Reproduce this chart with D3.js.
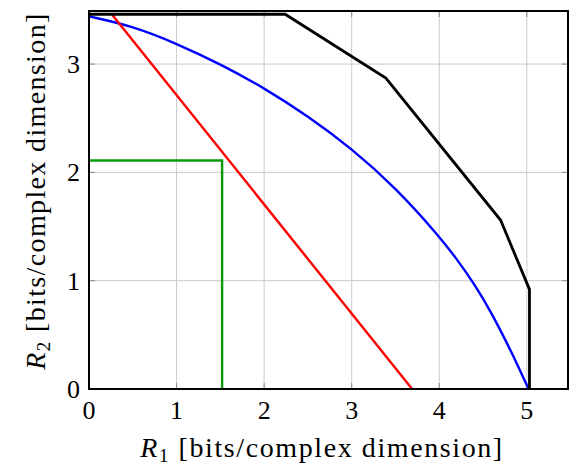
<!DOCTYPE html>
<html>
<head>
<meta charset="utf-8">
<script src="https://cdn.jsdelivr.net/npm/d3@7"></script>
</head>
<body style="margin:0">
<svg id="region" width="575" height="468"></svg>
<script>
// tick values on both axes
var xTicks = [0, 1, 2, 3, 4, 5];
var yTicks = [0, 1, 2, 3];

// outer (black) region boundary
var outerR1 = [0, 2.24, 3.39, 4.70, 5.03, 5.03];
var outerR2 = [3.46, 3.46, 2.87, 1.56, 0.92, 0];

// curved (blue) boundary
var curveR1 = [0, 0.5, 1, 1.5, 2, 2.5, 3, 3.5, 4, 4.2, 4.4, 4.6, 4.8, 4.9, 5.02];
var curveR2 = [3.44, 3.35, 3.19, 3.00, 2.78, 2.52, 2.22, 1.86, 1.41, 1.20, 0.97, 0.70, 0.38, 0.21, 0];

// sum-rate (red) line
var sumR1 = [0.26, 3.69];
var sumR2 = [3.46, 0];

// box (green) region
var boxR1 = [0, 1.52, 1.52];
var boxR2 = [2.11, 2.11, 0];

var zipPts = function(xs, ys)
{
    return xs.map(function(x, i) { return {x: x, y: ys[i]}; });
}

// place a text so that its middle (or right end) sits at x
var anchorText = function(sel, x, how)
{
    sel.each(function()
    {
        var w = this.getComputedTextLength();
        var shift = how === "end" ? w : w / 2;
        d3.select(this).attr("x", x - shift);
    });
}

var initGraph = function(target)
{
    var screen = {width: 575, height: 468};
    var margins = {top: 11, bottom: 79, left: 89, right: 7};
    var graph =
    {
        width: screen.width - margins.left - margins.right,
        height: screen.height - margins.top - margins.bottom
    };

    var svg = d3.select(target);

    var xScale = d3.scaleLinear()
        .domain([0, 5.47])
        .range([0, graph.width]);

    var yScale = d3.scaleLinear()
        .domain([0, 3.49])
        .range([graph.height, 0]);

    var g = svg.append("g")
        .attr("transform", "translate(" + margins.left + "," + margins.top + ")");

    // grid lines
    var grid = g.append("g").attr("stroke", "#cbcbcb").attr("stroke-width", 1);
    grid.selectAll(".gx").data(xTicks).enter().append("line")
        .attr("x1", function(d) { return xScale(d); })
        .attr("x2", function(d) { return xScale(d); })
        .attr("y1", 0).attr("y2", graph.height);
    grid.selectAll(".gy").data(yTicks).enter().append("line")
        .attr("y1", function(d) { return yScale(d); })
        .attr("y2", function(d) { return yScale(d); })
        .attr("x1", 0).attr("x2", graph.width);

    // inner tick marks on all four sides
    var tl = 6;
    var ticks = g.append("g").attr("stroke", "#8a8a8a").attr("stroke-width", 1);
    xTicks.forEach(function(t)
    {
        ticks.append("line").attr("x1", xScale(t)).attr("x2", xScale(t))
            .attr("y1", graph.height).attr("y2", graph.height - tl);
        ticks.append("line").attr("x1", xScale(t)).attr("x2", xScale(t))
            .attr("y1", 0).attr("y2", tl);
    });
    yTicks.forEach(function(t)
    {
        ticks.append("line").attr("y1", yScale(t)).attr("y2", yScale(t))
            .attr("x1", 0).attr("x2", tl);
        ticks.append("line").attr("y1", yScale(t)).attr("y2", yScale(t))
            .attr("x1", graph.width).attr("x2", graph.width - tl);
    });

    g.append("clipPath").attr("id", "plotclip")
        .append("rect").attr("x", -2).attr("y", -2)
        .attr("width", graph.width + 4).attr("height", graph.height + 4);

    var plot = g.append("g").attr("clip-path", "url(#plotclip)");

    var straight = d3.line()
        .x(function(d) { return xScale(d.x); })
        .y(function(d) { return yScale(d.y); });

    var smooth = d3.line()
        .curve(d3.curveBasis)
        .x(function(d) { return xScale(d.x); })
        .y(function(d) { return yScale(d.y); });

    plot.append("path")
        .datum(zipPts(boxR1, boxR2))
        .attr("d", straight)
        .attr("fill", "none").attr("stroke", "#0a9a0a").attr("stroke-width", 2.4);

    plot.append("path")
        .datum(zipPts(curveR1, curveR2))
        .attr("d", smooth)
        .attr("fill", "none").attr("stroke", "#0000ff").attr("stroke-width", 2.4);

    plot.append("path")
        .datum(zipPts(sumR1, sumR2))
        .attr("d", straight)
        .attr("fill", "none").attr("stroke", "#ff0000").attr("stroke-width", 2.4);

    plot.append("path")
        .datum(zipPts(outerR1, outerR2))
        .attr("d", straight)
        .attr("fill", "none").attr("stroke", "#000").attr("stroke-width", 2.8)
        .attr("stroke-linejoin", "miter");

    // frame
    g.append("rect")
        .attr("width", graph.width).attr("height", graph.height)
        .attr("fill", "none").attr("stroke", "#000").attr("stroke-width", 2);

    // tick labels
    g.selectAll(".xlab").data(xTicks).enter()
        .append("text")
        .attr("y", graph.height + 30)
        .attr("font-size", 26)
        .style("font-family", "\"Liberation Serif\"")
        .text(function(d) { return d; })
        .each(function(d) { anchorText(d3.select(this), xScale(d), "middle"); });

    g.selectAll(".ylab").data(yTicks).enter()
        .append("text")
        .attr("y", function(d) { return yScale(d) + 9; })
        .attr("font-size", 26)
        .style("font-family", "\"Liberation Serif\"")
        .text(function(d) { return d; })
        .each(function() { anchorText(d3.select(this), -9, "end"); });

    // axis titles, letter-spaced out to the title width
    var addTitle = function(parent, sub, width)
    {
        var t = parent.append("text")
            .attr("font-size", 28)
            .style("font-family", "\"Liberation Serif\"");
        t.append("tspan").style("font-style", "italic").text("R");
        t.append("tspan").attr("dy", 5).attr("font-size", 19).text(sub);
        t.append("tspan").attr("dy", -5).text(" [bits/complex dimension]");
        var w = t.node().getComputedTextLength();
        var gap = (width - w) / 26;
        t.style("letter-spacing", gap + "px");
        w = t.node().getComputedTextLength();
        t.attr("x", -w / 2);
        return t;
    }

    var xg = svg.append("g").attr("transform", "translate(322,457)");
    addTitle(xg, "1", 362);

    var yg = svg.append("g").attr("transform", "translate(45,191) rotate(-90)");
    addTitle(yg, "2", 356);
}

initGraph("#region");
</script>
</body>
</html>
